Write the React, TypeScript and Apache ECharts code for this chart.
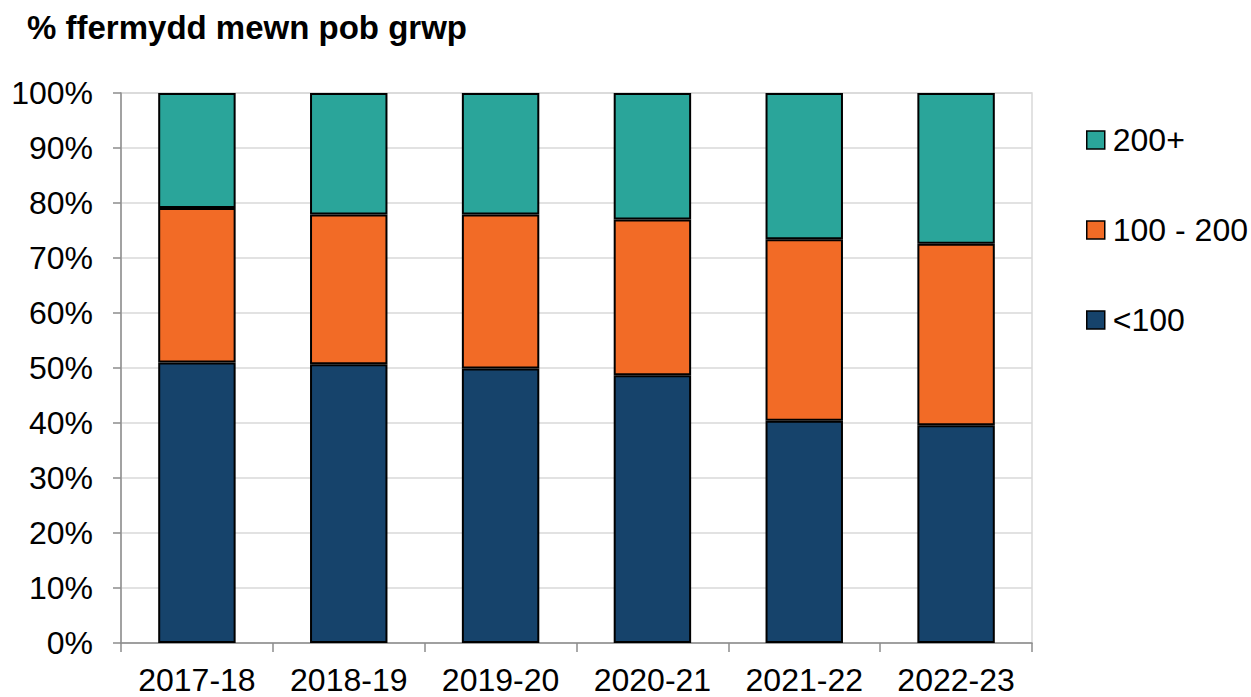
import React, { useEffect, useRef } from "react";
import * as echarts from "echarts";

const categories = ["2017-18", "2018-19", "2019-20", "2020-21", "2021-22", "2022-23"];
const under100 = [51.0, 50.7, 49.9, 48.7, 40.4, 39.6];
const from100to200 = [28.1, 27.2, 28.0, 28.3, 33.0, 33.0];
const over200 = [20.9, 22.1, 22.1, 23.0, 26.6, 27.4];
const yTicks = [0, 10, 20, 30, 40, 50, 60, 70, 80, 90, 100];

const FONT = "'Liberation Sans', Arial, sans-serif";

export default function App() {
  const ref = useRef<HTMLDivElement>(null);
  useEffect(() => {
    document.body.style.margin = "0";
    const chart = echarts.init(ref.current!, null, { renderer: "svg" });
    const border = { borderColor: "#000", borderWidth: 2 };
    chart.setOption({
      animation: false,
      backgroundColor: "#fff",
      textStyle: { fontFamily: FONT },
      title: {
        text: "% ffermydd mewn pob grwp",
        left: 22,
        top: 6,
        textStyle: { fontFamily: FONT, fontSize: 33, fontWeight: "bold", color: "#000" },
      },
      grid: {
        left: 121,
        right: 219,
        top: 93,
        bottom: 54,
        show: true,
        borderColor: "#d9d9d9",
        borderWidth: 1.5,
      },
      legend: {
        orient: "vertical",
        left: 1081,
        top: 119,
        itemWidth: 18,
        itemHeight: 18,
        itemGap: 58,
        icon: "rect",
        data: ["200+", "100 - 200", "<100"],
        itemStyle: { borderColor: "#000", borderWidth: 1.5 },
        textStyle: { fontFamily: FONT, fontSize: 32, color: "#000", padding: [0, 0, 0, 3] },
      },
      xAxis: {
        type: "category",
        data: categories,
        axisLine: { lineStyle: { color: "#8c8c8c", width: 1.5 } },
        axisTick: { show: true, length: 9, lineStyle: { color: "#8c8c8c", width: 1.5 } },
        axisLabel: {
          interval: 0,
          fontFamily: FONT,
          fontSize: 32,
          lineHeight: 28,
          color: "#000",
          margin: 23,
        },
      },
      yAxis: {
        type: "value",
        min: 0,
        max: 100,
        interval: 10,
        axisLine: { show: true, lineStyle: { color: "#8c8c8c", width: 1.5 } },
        axisTick: { show: true, length: 8, lineStyle: { color: "#8c8c8c", width: 1.5 } },
        splitLine: { lineStyle: { color: "#d9d9d9", width: 1.5 } },
        axisLabel: {
          fontFamily: FONT,
          fontSize: 32,
          color: "#000",
          margin: 28,
          formatter: (v: number) => (yTicks.includes(v) ? v + "%" : ""),
        },
      },
      series: [
        {
          name: "<100",
          type: "bar",
          stack: "s",
          barWidth: "51%",
          data: under100,
          itemStyle: { color: "#16436b", ...border },
        },
        {
          name: "100 - 200",
          type: "bar",
          stack: "s",
          barWidth: "51%",
          data: from100to200,
          itemStyle: { color: "#f26b26", ...border },
        },
        {
          name: "200+",
          type: "bar",
          stack: "s",
          barWidth: "51%",
          data: over200,
          itemStyle: { color: "#2aa59a", ...border },
        },
      ],
    });
    return () => chart.dispose();
  }, []);
  return <div ref={ref} style={{ width: 1251, height: 697 }} />;
}
